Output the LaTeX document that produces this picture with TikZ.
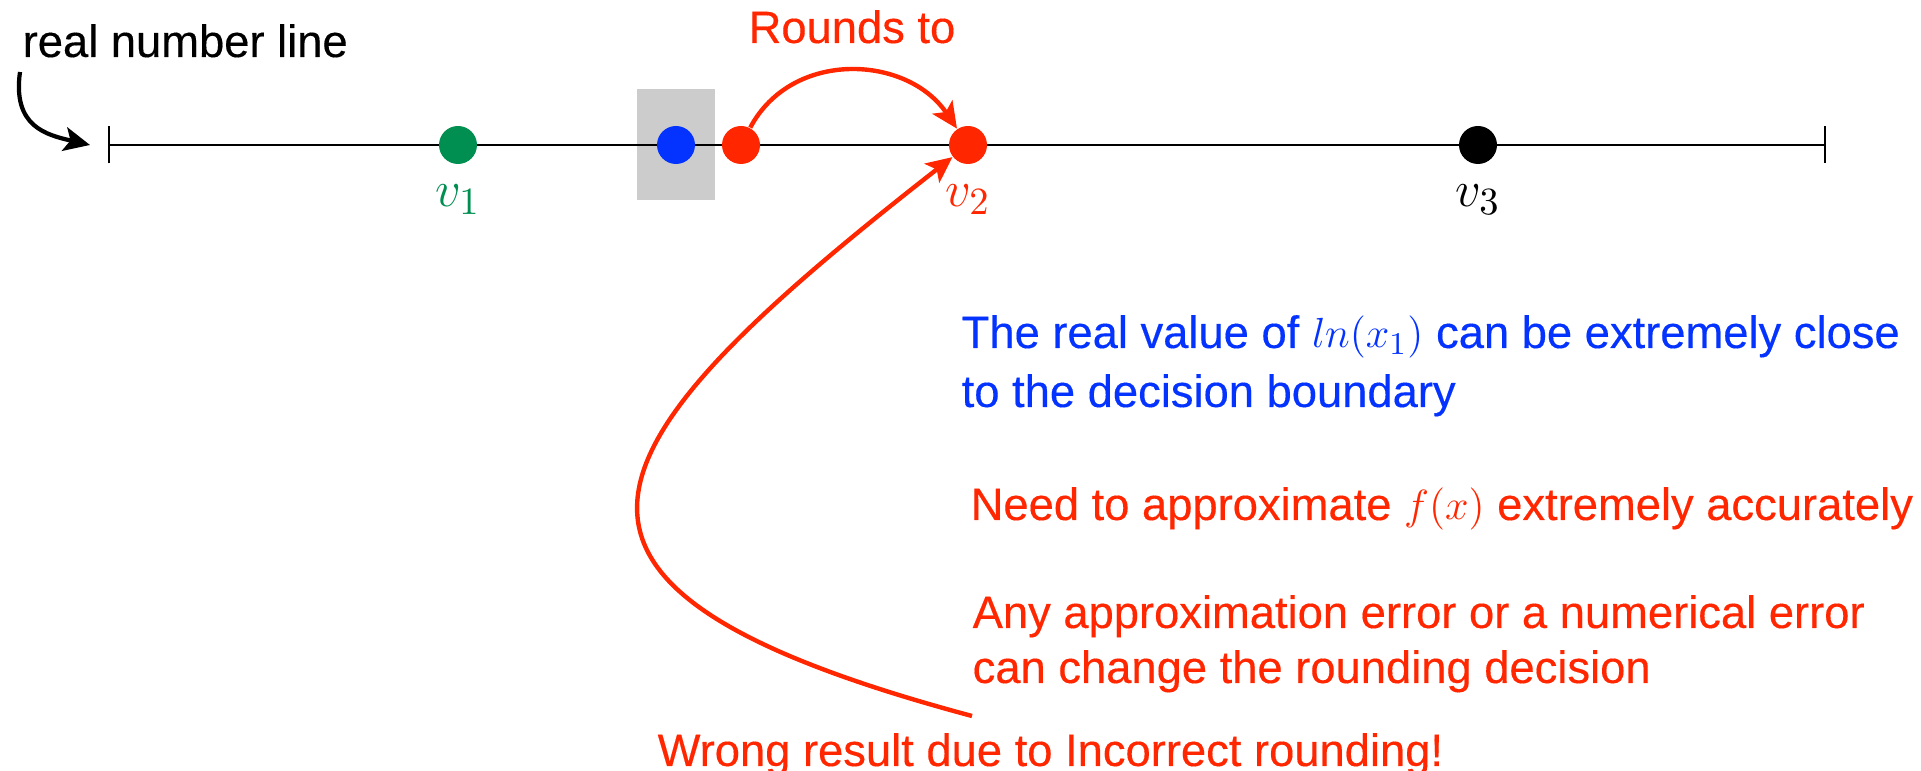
\documentclass[tikz,border=0pt]{standalone}
\usepackage{fontspec}
\setmainfont{Liberation Sans}[FakeBold=0.3]
\usepackage{tikz}
\usetikzlibrary{arrows.meta,positioning,calc}
\usepackage{xcolor}
\definecolor{kred}{RGB}{255,38,0}
\definecolor{kblue}{RGB}{4,51,255}
\definecolor{kgreen}{RGB}{0,143,81}
\definecolor{kgray}{RGB}{204,204,204}

\begin{document}
\begin{tikzpicture}[
    txt/.style={font=\fontsize{12.9}{15.5}\selectfont, inner sep=0pt},
    vlab/.style={font=\fontsize{15.5}{18}\selectfont, inner sep=0pt, anchor=base},
    dot/.style={circle, inner sep=0pt, minimum size=0.38cm},
    arr/.style={line width=1.25pt, -{Stealth[length=2.6mm, width=2.4mm, inset=0.6mm]}}
]
    \useasboundingbox (0,0) rectangle (19.21,7.71);
    \node[fill=kgray, minimum width=0.78cm, minimum height=1.11cm, inner sep=0pt] (band) at (6.76,6.26) {};
    \coordinate (lft) at (1.08,6.26);
    \coordinate (rgt) at (18.26,6.26);
    \draw[line width=0.6pt, {Bar[width=0.37cm]}-{Bar[width=0.37cm]}] (lft) -- (rgt);

    \node[dot, fill=kgreen] (v1) at (4.58,6.26) {};
    \node[dot, fill=kblue] (x1) at (6.76,6.26) {};
    \node[dot, fill=kred] (r1) at (7.41,6.26) {};
    \node[dot, fill=kred] (v2) at (9.68,6.26) {};
    \node[dot, fill=black] (v3) at (14.78,6.26) {};
    \node[vlab, text=kgreen] (v1lab) at ([yshift=-0.62cm]v1.center) {$v_1$};
    \node[vlab, text=kred] (v2lab) at ([yshift=-0.62cm]v2.center) {$v_2$};
    \node[vlab] (v3lab) at ([yshift=-0.62cm]v3.center) {$v_3$};

    \node[txt, anchor=base west] (rnl) at (0.22,7.14) {real number line};
    \coordinate (rnltail) at ([xshift=-0.02cm, yshift=-0.15cm]rnl.base west);
    \draw[arr, line width=1.2pt] (rnltail) .. controls +(262:0.55) and +(167:0.45) .. ([xshift=-0.18cm]lft);

    \node[txt, text=kred, anchor=base] (rounds) at (8.52,7.28) {Rounds to};
    \draw[arr, kred] (r1) to[out=62, in=124, looseness=1.1] (v2);

    \node[txt, text=kblue, anchor=base west] (close1) at (9.61,4.23) {The real value of $ln(x_1)$ can be extremely close};
    \node[txt, text=kblue, anchor=base west] (close2) at ([yshift=-0.59cm]close1.base west) {to the decision boundary};

    \node[txt, text=kred, anchor=base west] (need) at (9.70,2.51) {Need to approximate $f(x)$ extremely accurately};

    \node[txt, text=kred, anchor=base west] (any1) at (9.72,1.43) {Any approximation error or a numerical error};
    \node[txt, text=kred, anchor=base west] (any2) at ([yshift=-0.55cm]any1.base west) {can change the rounding decision};

    \node[txt, text=kred, anchor=base west] (wrong) at (6.57,0.05) {Wrong result due to Incorrect rounding!};
    \coordinate (wrongtail) at (9.72,0.55);
    \draw[arr, kred] (wrongtail) .. controls +(165:5) and +(218:5) .. (v2);
\end{tikzpicture}
\end{document}
